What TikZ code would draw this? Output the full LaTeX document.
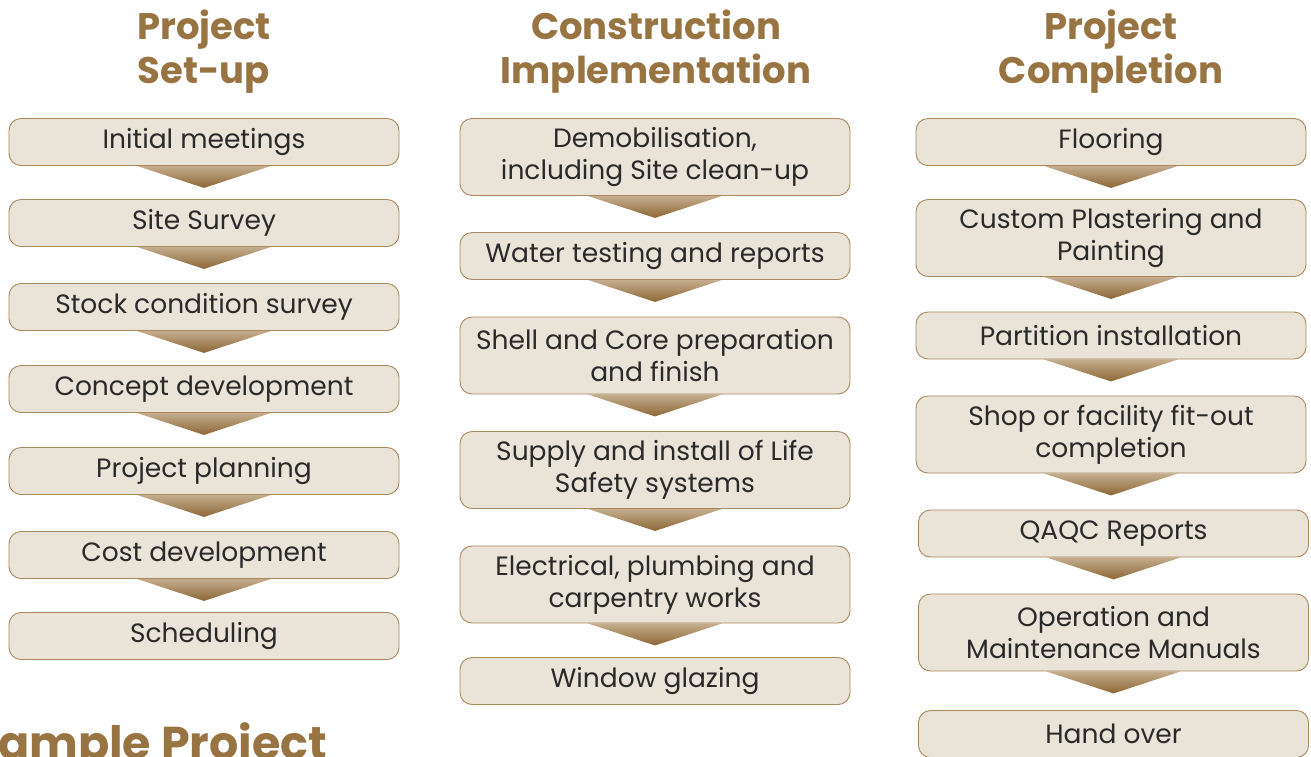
\documentclass[tikz,border=0pt]{standalone}
\usepackage{fontspec}
\setmainfont{Poppins}
\usetikzlibrary{calc}
\pgfdeclarelayer{background}
\pgfsetlayers{background,main}
\definecolor{hdr}{HTML}{987443}
\definecolor{boxfill}{HTML}{EAE3D8}
\definecolor{boxline}{HTML}{A8885C}
\definecolor{txt}{HTML}{2A2A2A}
\definecolor{arrtop}{HTML}{C4AD8E}
\definecolor{arrbot}{HTML}{8C6736}
\tikzset{
  stepbox/.style={draw=boxline, line width=0.9pt, fill=boxfill, rounded corners=12pt,
    minimum width=390pt, minimum height=47pt, inner sep=0pt, align=center,
    font=\fontsize{26.5}{32}\selectfont, text=txt},
  tallbox/.style={stepbox, minimum height=77pt},
  header/.style={font=\fontsize{37}{44}\selectfont\bfseries, text=hdr, align=center},
}
\newcommand{\flowarrow}[1]{%
  \shade[top color=arrtop, bottom color=arrbot]
    ($(#1.south)+(-67pt,0)$) -- ($(#1.south)+(67pt,0)$) -- ($(#1.south)+(0,-22pt)$) -- cycle;}
\begin{document}
\begin{tikzpicture}[x=1pt,y=-1pt]
\useasboundingbox (0,0) rectangle (1311,756);
% headers
\node[header] (h1) at (204,52) {Project\\Set-up};
\node[header] (h2) at (656,52) {Construction\\Implementation};
\node[header] (h3) at (1111,52) {Project\\Completion};
% column 1
\path
  node[stepbox] (a1) at (204,142) {Initial meetings}
  node[stepbox] (a2) at (204,223) {Site Survey}
  node[stepbox] (a3) at (204,307) {Stock condition survey}
  node[stepbox] (a4) at (204,389) {Concept development}
  node[stepbox] (a5) at (204,471) {Project planning}
  node[stepbox] (a6) at (204,555) {Cost development}
  node[stepbox] (a7) at (204,636) {Scheduling};
% column 2
\path
  node[tallbox] (b1) at (655,157) {Demobilisation,\\including Site clean-up}
  node[stepbox] (b2) at (655,256) {Water testing and reports}
  node[tallbox] (b3) at (655,355.5) {Shell and Core preparation\\and finish}
  node[tallbox] (b4) at (655,470) {Supply and install of Life\\Safety systems}
  node[tallbox] (b5) at (655,584.5) {Electrical, plumbing and\\carpentry works}
  node[stepbox] (b6) at (655,681) {Window glazing};
% column 3
\path
  node[stepbox] (c1) at (1111,142) {Flooring}
  node[tallbox] (c2) at (1111,238) {Custom Plastering and\\Painting}
  node[stepbox] (c3) at (1111,335.5) {Partition installation}
  node[tallbox] (c4) at (1111,434.5) {Shop or facility fit-out\\completion}
  node[stepbox] (c5) at (1113.5,533.5) {QAQC Reports}
  node[tallbox] (c6) at (1113.5,632.5) {Operation and\\Maintenance Manuals}
  node[stepbox] (c7) at (1113.5,734) {Hand over};
\begin{pgfonlayer}{background}
\foreach \n in {a1,a2,a3,a4,a5,a6,b1,b2,b3,b4,b5,c1,c2,c3,c4,c5,c6}{\flowarrow{\n}}
\end{pgfonlayer}
% bottom title
\node[anchor=base west, inner sep=0pt, font=\fontsize{46}{52}\selectfont\bfseries, text=hdr] (t) at (-2,759) {ample Project};
\end{tikzpicture}
\end{document}
